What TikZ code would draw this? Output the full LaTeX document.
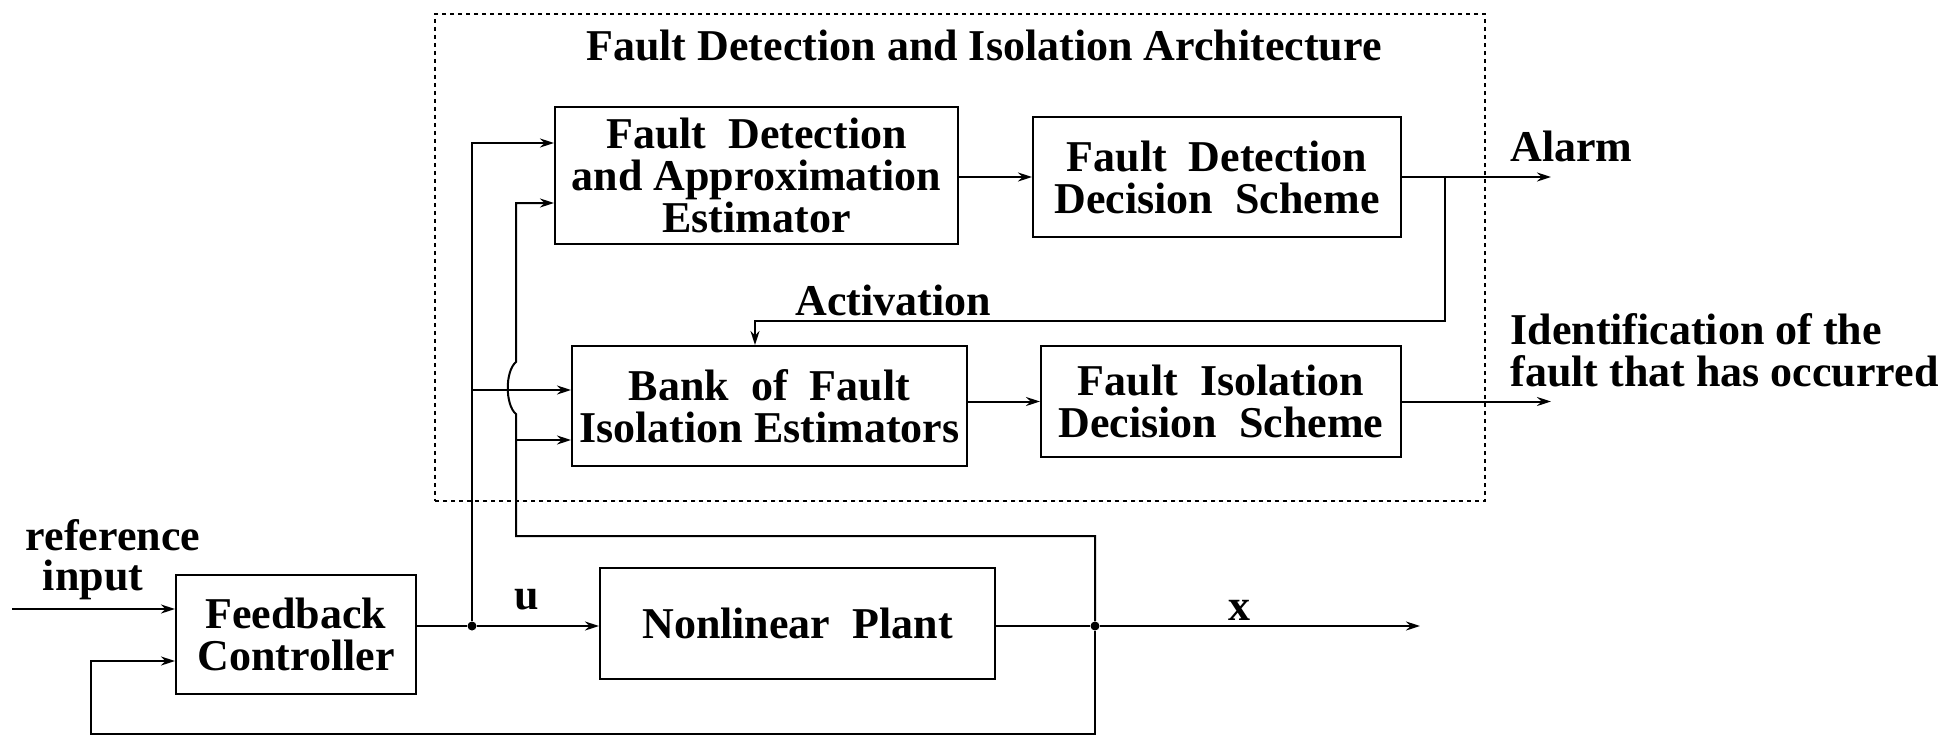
\documentclass[tikz,border=0pt]{standalone}
\usepackage{fontspec}
\setmainfont{Liberation Serif}
\usetikzlibrary{arrows.meta}
\begin{document}
\begin{tikzpicture}[x=0.5pt,y=-0.5pt,
  font=\fontsize{22}{21}\selectfont\bfseries,
  blk/.style={draw,line width=1pt,inner sep=0pt,align=center},
  wire/.style={line width=1pt},
  arr/.style={wire,-{Stealth[length=7pt,width=4.5pt]}},
  dot/.style={circle,fill,inner sep=0pt,minimum size=4.5pt},
  lbl/.style={inner sep=0pt}]
\useasboundingbox (0,0) rectangle (1953,738);
% frame
\node[draw,line width=1pt,dash pattern=on 2pt off 2pt,minimum width=525pt,minimum height=243.5pt,inner sep=0pt] (fdi) at (960,257.5) {};
\node[lbl] (title) at (984,46) {Fault Detection and Isolation Architecture};
% blocks
\node[blk,minimum width=201.5pt,minimum height=68.5pt] (fdae) at (756.5,175.5) {Fault~~Detection\\and Approximation\\Estimator};
\node[blk,minimum width=184pt,minimum height=60pt] (fdds) at (1217,177) {Fault~~Detection\\Decision~~Scheme};
\node[blk,minimum width=197.5pt,minimum height=60pt] (bank) at (769.5,406) {Bank~~of~~Fault\\Isolation Estimators};
\node[blk,minimum width=180pt,minimum height=55.5pt] (fids) at (1221,401.5) {Fault~~Isolation\\Decision~~Scheme};
\node[blk,minimum width=120pt,minimum height=59.5pt] (fc) at (296,634.5) {Feedback\\Controller};
\node[blk,minimum width=197.5pt,minimum height=55.5pt] (np) at (797.5,623.5) {Nonlinear~~Plant};
% labels
\node[lbl,anchor=west] (alarm) at (1510,146) {Alarm};
\node[lbl,anchor=west,align=left] (ident) at (1510,350) {Identification of the\\fault that has occurred};
\node[lbl] (actl) at (893,300) {Activation};
\node[lbl] (ul) at (527,600) {u};
\node[lbl] (xl) at (1239,610) {x};
\node[lbl,align=left,font=\fontsize{22}{20}\selectfont\bfseries] (ref) at (113,560) {reference\\\hspace*{8.5pt}input};
% junctions and points
\node[dot] (ju) at (472,626) {};
\node[dot] (jx) at (1095,626) {};
\coordinate (refin) at (12,609);
\coordinate (xout) at (1420,626);
\coordinate (fbr) at (1095,734);
\coordinate (fbl) at (91,734);
\coordinate (xtop) at (1095,536);
\coordinate (xv) at (516,536);
\coordinate (jb) at (516,414);
\coordinate (jt) at (516,362);
\coordinate (alarmend) at (1551,177);
\coordinate (act) at (1445,177);
\coordinate (actc) at (1445,321);
\coordinate (identend) at (1551,401.5);
\path ([yshift=16.25pt]fdae.west) coordinate (a1)
      ([yshift=-13.75pt]fdae.west) coordinate (a2)
      ([yshift=8pt]bank.west) coordinate (b1)
      ([yshift=-17pt]bank.west) coordinate (b2)
      ([yshift=12.75pt]fc.west) coordinate (c1)
      ([yshift=-13.25pt]fc.west) coordinate (c2)
      ([xshift=-7.25pt]bank.north) coordinate (bt);
% main loop
\draw[arr] (refin) -- (c1);
\draw[wire] (fc.east |- ju) -- (ju);
\draw[arr] (ju) -- (ju -| np.west);
\draw[wire] (np.east |- jx) -- (jx);
\draw[arr] (jx) -- (xout);
\draw[arr] (jx) -- (fbr) -- (fbl) |- (c2);
% signals to FDI
\draw[arr] (ju) |- (a1);
\draw[arr] (ju |- b1) -- (b1);
\draw[arr] (jx) -- (xtop) -- (xv) -- (jb) .. controls (505,405) and (505,371) .. (jt) |- (a2);
\draw[arr] (xv |- b2) -- (b2);
% inside FDI
\draw[arr] (fdae.east |- fdds.west) -- (fdds.west);
\draw[arr] (fdds.east) -- (alarmend);
\draw[arr] (act) -- (actc) -| (bt);
\draw[arr] (bank.east |- fids.west) -- (fids.west);
\draw[arr] (fids.east) -- (identend);
\end{tikzpicture}
\end{document}
